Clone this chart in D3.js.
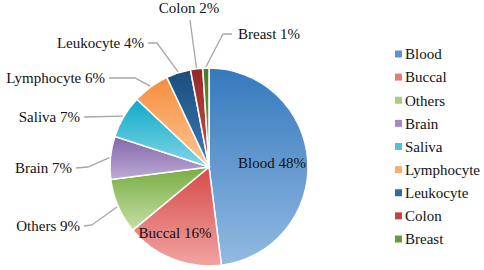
<!DOCTYPE html>
<html>
<head>
<meta charset="utf-8">
<script src="https://cdn.jsdelivr.net/npm/d3@7"></script>
<style>
  html, body { margin: 0; padding: 0; background: #fff; }
  svg text { font-family: 'Liberation Serif', serif !important; }
</style>
</head>
<body>
<script>
// Chart data
const categories = ['Blood', 'Buccal', 'Others', 'Brain', 'Saliva', 'Lymphocyte', 'Leukocyte', 'Colon', 'Breast'];
const shares = [48, 16, 9, 7, 7, 6, 4, 2, 1];
const labelTexts = ['Blood 48%', 'Buccal 16%', 'Others 9%', 'Brain 7%', 'Saliva 7%', 'Lymphocyte 6%', 'Leukocyte 4%', 'Colon 2%', 'Breast 1%'];

// Colours (top / bottom of each slice gradient, legend swatch)
const topColors = ['#3579bd', '#d64a48', '#78ad42', '#8466ab', '#10aac8', '#f68d3c', '#1b4c7c', '#962828', '#4a7a25'];
const bottomColors = ['#93bae2', '#f2a4a2', '#c6dea6', '#bcaad4', '#82d6e8', '#fcc896', '#3c7cba', '#c8504e', '#7aa84a'];
const swatchColors = ['#5e95cf', '#e87a78', '#a8cd80', '#a28bc2', '#4cc2dc', '#fbad6e', '#2f6ca5', '#c04545', '#6a9a3c'];

const FONT = 'Liberation Serif';
const width = 484, height = 270;
const cx = 209, cy = 167, radius = 99;

// label layout: text anchor point and elbow of leader line (null = straight)
const labelLayout = [
  { inside: true, x: 272, y: 163 },
  { inside: true, x: 175, y: 233 },
  { x: 80, y: 226, anchor: 'end', elbow: [92, 225] },
  { x: 72, y: 168, anchor: 'end', elbow: [88, 167] },
  { x: 80, y: 117, anchor: 'end', elbow: null },
  { x: 105, y: 78, anchor: 'end', elbow: [135, 78] },
  { x: 144, y: 43, anchor: 'end', elbow: [157, 43] },
  { x: 189, y: 8, anchor: 'middle', elbow: null, lineEnd: [190, 20] },
  { x: 238, y: 34, anchor: 'start', elbow: [223, 34] }
];

const data = categories.map((c, i) => ({ name: c, value: shares[i], label: labelTexts[i], idx: i }));

const svg = d3.select('body').append('svg')
  .attr('width', width)
  .attr('height', height)
  .style('display', 'block');

const defs = svg.append('defs');
data.forEach((d, i) => {
  const g = defs.append('linearGradient')
    .attr('id', 'grad' + i)
    .attr('x1', 0).attr('y1', 0).attr('x2', 0).attr('y2', 1);
  g.append('stop').attr('offset', '0%').attr('stop-color', topColors[i]);
  g.append('stop').attr('offset', '100%').attr('stop-color', bottomColors[i]);
});

const pie = d3.pie().sort(null).value(d => d.value);
const arcs = pie(data);
const arc = d3.arc().innerRadius(0).outerRadius(radius);

const chart = svg.append('g').attr('transform', `translate(${cx},${cy})`);

chart.selectAll('path.slice')
  .data(arcs)
  .enter()
  .append('path')
  .attr('class', 'slice')
  .attr('d', arc)
  .attr('fill', d => `url(#grad${d.index})`)
  .attr('stroke', '#fff')
  .attr('stroke-width', 1.5);

// leader lines for outside labels
const edgePoint = (d, r) => {
  const a = (d.startAngle + d.endAngle) / 2;
  return [cx + r * Math.sin(a), cy - r * Math.cos(a)];
};

const lineGen = d3.line();
arcs.forEach((d, i) => {
  const lay = labelLayout[i];
  if (lay.inside) return;
  const start = edgePoint(d, radius + 1);
  let pts;
  if (lay.lineEnd) {
    pts = [start, lay.lineEnd];
  } else {
    const endX = lay.anchor === 'end' ? lay.x + 4 : lay.x - 6;
    const endPt = [endX, lay.y];
    pts = lay.elbow ? [start, lay.elbow, endPt] : [start, endPt];
  }
  svg.append('path')
    .attr('d', lineGen(pts))
    .attr('fill', 'none')
    .attr('stroke', '#a6a6a6')
    .attr('stroke-width', 1.3);
});

// labels
svg.selectAll('text.label')
  .data(arcs)
  .enter()
  .append('text')
  .attr('class', 'label')
  .attr('x', (d, i) => labelLayout[i].x)
  .attr('y', (d, i) => labelLayout[i].y)
  .attr('dy', '0.35em')
  .attr('text-anchor', (d, i) => labelLayout[i].inside ? 'middle' : labelLayout[i].anchor)
  .attr('font-family', FONT)
  .style('font-family', FONT)
  .style('font-size', '15px')
  .style('fill', '#111')
  .text(d => d.data.label);

// legend
const legendY = d3.scalePoint().domain(categories).range([54, 239]);
const legend = svg.append('g').attr('class', 'legend');
legend.selectAll('rect')
  .data(categories)
  .enter()
  .append('rect')
  .attr('x', 395)
  .attr('y', d => legendY(d) - 3.5)
  .attr('width', 7)
  .attr('height', 7)
  .attr('fill', (d, i) => swatchColors[i]);
legend.selectAll('text')
  .data(categories)
  .enter()
  .append('text')
  .attr('x', 405)
  .attr('y', d => legendY(d))
  .attr('dy', '0.35em')
  .attr('font-family', FONT)
  .style('font-family', FONT)
  .style('font-size', '15px')
  .style('fill', '#111')
  .text(d => d);
</script>
</body>
</html>
